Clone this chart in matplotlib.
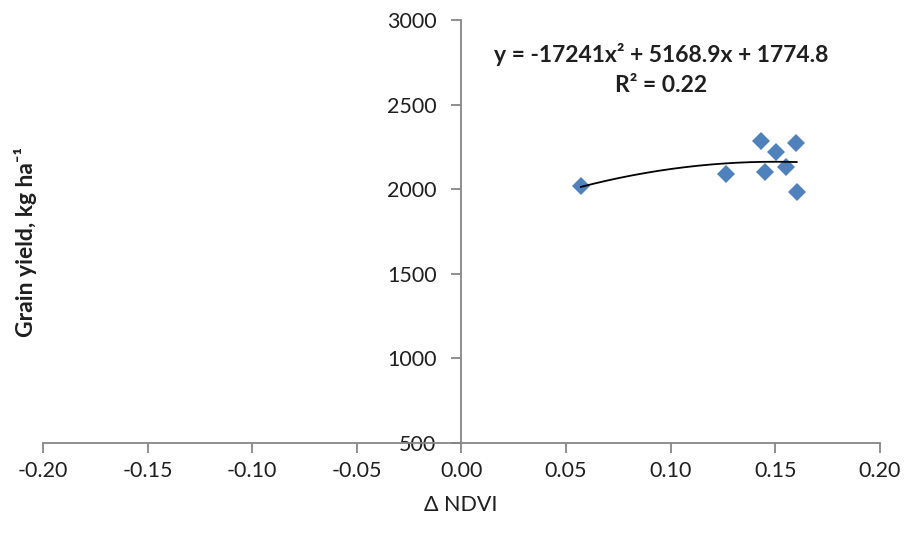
import numpy as np
import matplotlib
matplotlib.use("Agg")
import matplotlib.pyplot as plt

plt.rcParams['font.family'] = ['Lato', 'DejaVu Sans']

# Change in NDVI vs. grain yield
delta_ndvi = [0.057, 0.1265, 0.1432, 0.1599, 0.1504, 0.1551, 0.1451, 0.1602]
grain_yield = [2021, 2088, 2285, 2271, 2222, 2133, 2100, 1985]

# Second-order polynomial trend
coef_a, coef_b, coef_c = -17241.0, 5168.9, 1774.8
r_squared = 0.22

x_ticks = [-0.20, -0.15, -0.10, -0.05, 0.00, 0.05, 0.10, 0.15, 0.20]
y_ticks = [500, 1000, 1500, 2000, 2500, 3000]

fig = plt.figure(figsize=(9.10, 5.33), dpi=100)
ax = fig.add_axes([43 / 910, (533 - 443) / 533, (880 - 43) / 910, (443 - 20) / 533])

ax.set_xlim(-0.2, 0.2)
ax.set_ylim(500, 3000)

axis_color = '#868686'
text_color = '#1f1f1f'
for side in ['top', 'right']:
    ax.spines[side].set_visible(False)
ax.spines['left'].set_position(('data', 0.0))
for side in ['left', 'bottom']:
    ax.spines[side].set_color(axis_color)
    ax.spines[side].set_linewidth(1.3)

ax.set_xticks(x_ticks)
ax.set_xticklabels([f"{v:.2f}" for v in x_ticks])
ax.set_yticks(y_ticks)
ax.set_yticklabels([str(v) for v in y_ticks])
ax.tick_params(axis='both', colors=axis_color, labelcolor=text_color,
               labelsize=15.5, length=7, width=1.3, direction='out')
ax.tick_params(axis='y', pad=11)
ax.tick_params(axis='x', pad=6)

ax.plot(delta_ndvi, grain_yield, linestyle='none', marker='D', markersize=9.5,
        color='#4F81BD', markeredgewidth=0, zorder=3)

xs = np.linspace(min(delta_ndvi), max(delta_ndvi), 200)
ax.plot(xs, coef_a * xs ** 2 + coef_b * xs + coef_c, color='black', linewidth=1.3, zorder=4)

ax.text(0.0955, 2795, f"y = {coef_a:.0f}x² + {coef_b:.1f}x + {coef_c:.1f}",
        ha='center', va='center', fontsize=16.5, fontweight='bold', color=text_color)
ax.text(0.0955, 2615, f"R² = {r_squared:.2f}",
        ha='center', va='center', fontsize=16.5, fontweight='bold', color=text_color)

fig.text(461 / 910, 1 - 505 / 533, "Δ NDVI", ha='center', va='center',
         fontsize=15.5, color=text_color)
fig.text(26 / 910, 1 - 242 / 533, "Grain yield, kg ha⁻¹", ha='center', va='center',
         rotation=90, fontsize=16.5, fontweight='bold', color=text_color)

fig.savefig("out.png", dpi=100)
